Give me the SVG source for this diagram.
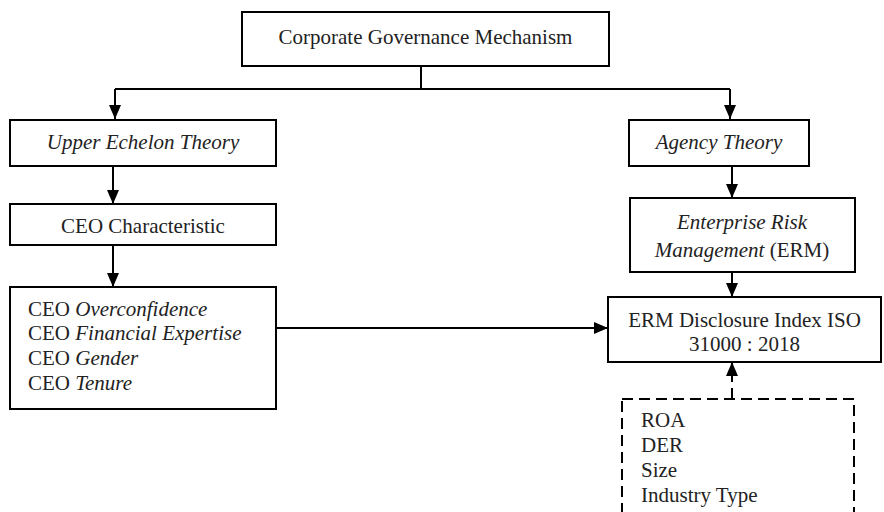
<svg xmlns="http://www.w3.org/2000/svg" width="884" height="512" viewBox="0 0 884 512">
<style>
.box{fill:#fff;stroke:#000;stroke-width:2}
.dash{fill:#fff;stroke:#000;stroke-width:2;stroke-dasharray:11,6}
.t{font-family:"Liberation Serif","Times New Roman",serif;font-size:21px;fill:#222}
.c{text-anchor:middle}
.i{font-style:italic}
.ln{fill:none;stroke:#000;stroke-width:2}
</style>
<defs>
<marker id="ah" viewBox="0 0 14 12" refX="14" refY="6" markerWidth="14" markerHeight="12" markerUnits="userSpaceOnUse" orient="auto">
<path d="M0,0 L14,6 L0,12 Z" fill="#000"/>
</marker>
</defs>
<g id="connectors">
<path class="ln" d="M421,66 V89"/>
<path class="ln" d="M115,89 H730"/>
<path class="ln" d="M115,89 V119" marker-end="url(#ah)"/>
<path class="ln" d="M730,89 V119" marker-end="url(#ah)"/>
<path class="ln" d="M113,166 V204" marker-end="url(#ah)"/>
<path class="ln" d="M113,245 V287" marker-end="url(#ah)"/>
<path class="ln" d="M732,166 V198" marker-end="url(#ah)"/>
<path class="ln" d="M732,272 V297" marker-end="url(#ah)"/>
<path class="ln" d="M276,328 H608" marker-end="url(#ah)"/>
<path class="ln" d="M732,399 V362" stroke-dasharray="11,6" marker-end="url(#ah)"/>
</g>
<g id="n-cgm">
<rect class="box" x="242" y="12" width="367" height="54"/>
<text class="t c" x="425.5" y="44">Corporate Governance Mechanism</text>
</g>
<g id="n-uet">
<rect class="box" x="10" y="120" width="266" height="46"/>
<text class="t c i" x="143" y="149">Upper Echelon Theory</text>
</g>
<g id="n-ceoc">
<rect class="box" x="10" y="204" width="266" height="41"/>
<text class="t c" x="143" y="233">CEO Characteristic</text>
</g>
<g id="n-ceol">
<rect class="box" x="10" y="287" width="266" height="122"/>
<text class="t" x="28" y="316">CEO <tspan class="i">Overconfidence</tspan></text>
<text class="t" x="28" y="340">CEO <tspan class="i">Financial Expertise</tspan></text>
<text class="t" x="28" y="365">CEO <tspan class="i">Gender</tspan></text>
<text class="t" x="28" y="390">CEO <tspan class="i">Tenure</tspan></text>
</g>
<g id="n-agency">
<rect class="box" x="629" y="120" width="180" height="46"/>
<text class="t c i" x="719" y="149">Agency Theory</text>
</g>
<g id="n-erm">
<rect class="box" x="630" y="198" width="225" height="74"/>
<text class="t c i" x="742" y="229">Enterprise Risk</text>
<text class="t c" x="742" y="257"><tspan class="i">Management</tspan> (ERM)</text>
</g>
<g id="n-disc">
<rect class="box" x="608" y="297" width="273" height="65"/>
<text class="t c" x="744.5" y="327">ERM Disclosure Index ISO</text>
<text class="t c" x="744.5" y="351">31000 : 2018</text>
</g>
<g id="n-ctrl">
<rect class="dash" x="622" y="399" width="232" height="140"/>
<text class="t" x="641" y="427">ROA</text>
<text class="t" x="641" y="452">DER</text>
<text class="t" x="641" y="477">Size</text>
<text class="t" x="641" y="502">Industry Type</text>
</g>
</svg>
